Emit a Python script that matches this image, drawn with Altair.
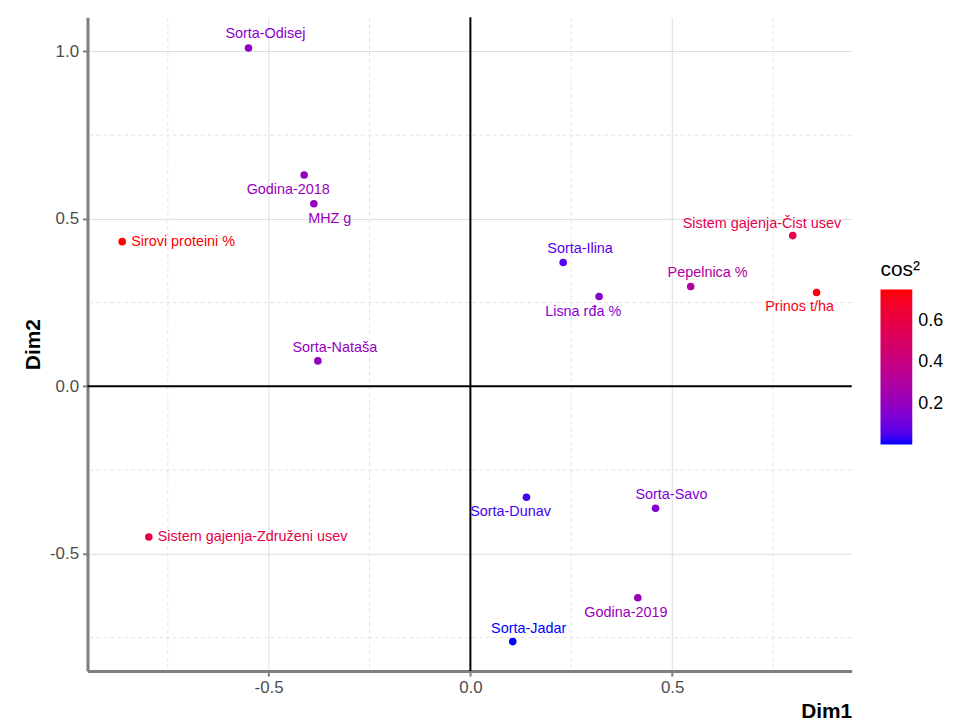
import altair as alt
import pandas as pd

# ---- data ----
names = [
    "Sorta-Odisej", "Godina-2018", "MHZ g", "Sirovi proteini %", "Sorta-Nataša",
    "Sistem gajenja-Združeni usev", "Sorta-Ilina", "Lisna rđa %", "Pepelnica %",
    "Sistem gajenja-Čist usev", "Prinos t/ha", "Sorta-Dunav", "Sorta-Savo",
    "Godina-2019", "Sorta-Jadar",
]
dim1 = [-0.550, -0.412, -0.388, -0.863, -0.378, -0.797, 0.230, 0.319, 0.546,
        0.799, 0.858, 0.139, 0.459, 0.415, 0.105]
dim2 = [1.010, 0.631, 0.545, 0.432, 0.076, -0.450, 0.370, 0.268, 0.298,
        0.450, 0.280, -0.331, -0.364, -0.631, -0.762]
cos2 = [0.17, 0.21, 0.21, 0.75, 0.20, 0.58, 0.06, 0.16, 0.30,
        0.57, 0.73, 0.04, 0.14, 0.22, 0.005]

x_major = [-0.5, 0.0, 0.5]
x_minor = [-0.75, -0.25, 0.25, 0.75]
y_major = [-0.5, 0.0, 0.5, 1.0]
y_minor = [-0.75, -0.25, 0.25, 0.75]
legend_ticks = [0.2, 0.4, 0.6]

df = pd.DataFrame({"name": names, "Dim1": dim1, "Dim2": dim2, "cos2": cos2})

# ---- styling (label nudges in px: dx, dy, align) ----
nudge = {
    "Sorta-Odisej": (17, -14, "center"),
    "Godina-2018": (-16, 15, "center"),
    "MHZ g": (16, 15, "center"),
    "Sirovi proteini %": (9, 0, "left"),
    "Sorta-Nataša": (17, -13, "center"),
    "Sistem gajenja-Združeni usev": (9, 0, "left"),
    "Sorta-Ilina": (17, -13, "center"),
    "Lisna rđa %": (-16, 16, "center"),
    "Pepelnica %": (17, -14, "center"),
    "Sistem gajenja-Čist usev": (-31, -12, "center"),
    "Prinos t/ha": (-17, 15, "center"),
    "Sorta-Dunav": (-16, 15, "center"),
    "Sorta-Savo": (16, -13, "center"),
    "Godina-2019": (-12, 15, "center"),
    "Sorta-Jadar": (16, -13, "center"),
}

FONT = "Liberation Sans"
xdom = [-0.949, 0.945]
ydom = [-0.850, 1.102]

xscale = alt.Scale(domain=xdom, nice=False, zero=False)
yscale = alt.Scale(domain=ydom, nice=False, zero=False)
cscale = alt.Scale(domain=[min(cos2), max(cos2)], range=["#0000FF", "#FF0000"],
                   interpolate="lab")

minor_x = alt.Chart(pd.DataFrame({"v": x_minor})).mark_rule(
    color="#E3E3E3", strokeWidth=1, strokeDash=[4, 3]
).encode(x=alt.X("v:Q", scale=xscale))
minor_y = alt.Chart(pd.DataFrame({"v": y_minor})).mark_rule(
    color="#E3E3E3", strokeWidth=1, strokeDash=[4, 3]
).encode(y=alt.Y("v:Q", scale=yscale))

zero_x = alt.Chart(pd.DataFrame({"v": [0.0]})).mark_rule(
    color="black", strokeWidth=2
).encode(x=alt.X("v:Q", scale=xscale))
zero_y = alt.Chart(pd.DataFrame({"v": [0.0]})).mark_rule(
    color="black", strokeWidth=2
).encode(y=alt.Y("v:Q", scale=yscale))

base = alt.Chart(df)

axis_style = dict(
    grid=True, gridColor="#DEDEDE", gridWidth=1,
    domainColor="#7F7F7F", domainWidth=3,
    tickColor="#7F7F7F", tickWidth=2, tickSize=5,
    labelColor="#4D4D4D", labelFontSize=17, labelFont=FONT, labelPadding=4,
    labelExpr="replace(format(datum.value, '.1f'), '\u2212', '-')",
    titleFontSize=21, titleFontWeight="bold",
    titleColor="black", titleFont=FONT,
)

points = base.mark_circle(size=58, opacity=1).encode(
    x=alt.X("Dim1:Q", scale=xscale,
            axis=alt.Axis(values=x_major, title="Dim1", titleAnchor="end",
                          titlePadding=5, **axis_style)),
    y=alt.Y("Dim2:Q", scale=yscale,
            axis=alt.Axis(values=y_major, title="Dim2", titlePadding=6,
                          **axis_style)),
    color=alt.Color("cos2:Q", scale=cscale, title="cos²",
                    legend=alt.Legend(values=legend_ticks, format=".1f",
                                      orient="none", legendX=798, legendY=243,
                                      direction="vertical",
                                      gradientLength=156, gradientThickness=32,
                                      gradientStrokeWidth=0,
                                      titleFontSize=21, titleFontWeight="normal",
                                      titleFont=FONT, titleColor="black",
                                      titlePadding=10,
                                      labelFontSize=18, labelFont=FONT,
                                      labelColor="black", labelOffset=6)),
)

label_layers = []
for n in names:
    dx, dy, al = nudge[n]
    label_layers.append(
        base.transform_filter(alt.datum.name == n).mark_text(
            dx=dx, dy=dy, align=al, baseline="middle", fontSize=14.5, font=FONT
        ).encode(
            x=alt.X("Dim1:Q", scale=xscale),
            y=alt.Y("Dim2:Q", scale=yscale),
            text="name:N",
            color=alt.Color("cos2:Q", scale=cscale, legend=None),
        )
    )

chart = alt.layer(minor_x, minor_y, zero_x, zero_y, points, *label_layers).properties(
    width=769, height=658,
    background="white",
    autosize=alt.AutoSizeParams(type="none"),
    padding={"left": 80, "top": 7, "right": 105, "bottom": 54},
).configure_view(stroke=None)

chart.save("out.html", embed_options={"renderer": "svg", "actions": False})
